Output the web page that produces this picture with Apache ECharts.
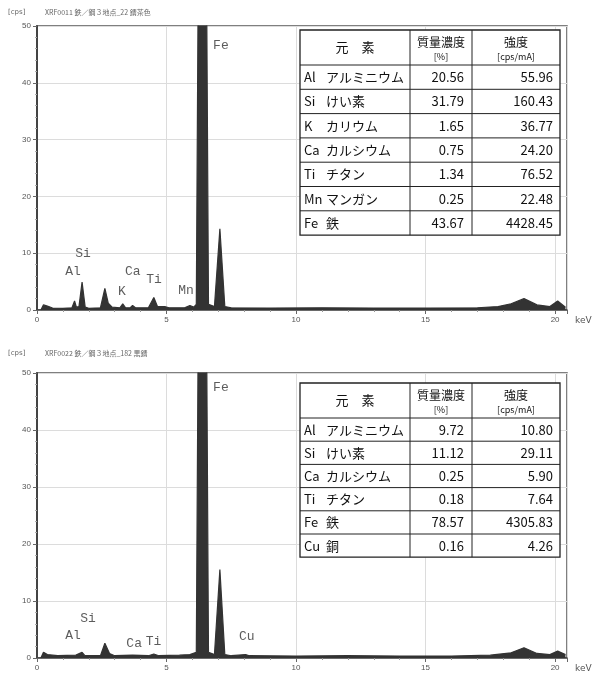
<!DOCTYPE html>
<html>
<head>
<meta charset="utf-8">
<script src="https://cdn.jsdelivr.net/npm/echarts@6/dist/echarts.min.js"></script>
<style>
html,body{margin:0;padding:0;background:#fff;}
#c{width:599px;height:677px;}
</style>
</head>
<body>
<div id="c"></div>
<script>
// ---------- data ----------
// spectrum 1: [keV, cps]
var spectrum1 = [
  [0.15,0],[0.25,0.9],[0.4,0.7],[0.6,0.35],[1.0,0.3],[1.35,0.4],[1.45,1.6],[1.52,0.5],[1.62,0.6],
  [1.74,4.9],[1.86,0.5],[2.0,0.3],[2.45,0.4],[2.62,3.8],[2.75,1.2],[2.9,0.5],[3.2,0.4],
  [3.31,1.1],[3.42,0.4],[3.6,0.4],[3.69,0.8],[3.8,0.4],[4.3,0.4],[4.51,2.2],[4.65,0.6],
  [4.93,0.6],[5.1,0.4],[5.7,0.4],[5.9,0.8],[6.05,0.5],[6.15,1.0],[6.22,55],[6.4,600],
  [6.55,55],[6.62,1.0],[6.85,0.6],[7.06,14.3],[7.25,0.6],[7.5,0.4],[9,0.35],[11,0.4],
  [13,0.35],[15,0.35],[17,0.4],[17.8,0.6],[18.3,1.1],[18.8,2.0],[19.3,0.9],[19.8,0.6],
  [20.1,1.6],[20.4,0.5]
];
// spectrum 2: [keV, cps]
var spectrum2 = [
  [0.15,0],[0.25,1.0],[0.4,0.6],[0.8,0.4],[1.5,0.5],[1.74,1.0],[1.85,0.4],[2.45,0.4],
  [2.62,2.6],[2.8,0.8],[3.0,0.4],[3.69,0.5],[4.3,0.4],[4.51,0.7],[4.7,0.4],[5.5,0.5],
  [5.9,0.6],[6.15,1.0],[6.22,55],[6.4,600],[6.55,55],[6.62,1.0],[6.85,0.6],[7.06,15.5],
  [7.25,0.6],[7.5,0.4],[8.05,0.6],[8.2,0.4],[10,0.35],[12,0.4],[14,0.35],[16,0.35],
  [17.5,0.5],[18.3,0.9],[18.8,1.8],[19.3,0.8],[19.8,0.6],[20.1,1.2],[20.4,0.6]
];
// peak annotations: [text, keV, cps]
var peakLabels1 = [['Fe',7.1,46.6],['Si',1.78,9.9],['Al',1.39,6.7],['K',3.28,3.3],['Ca',3.7,6.7],['Ti',4.52,5.3],['Mn',5.75,3.5]];
var peakLabels2 = [['Fe',7.1,47.4],['Si',1.97,7.0],['Al',1.39,3.9],['Ca',3.75,2.6],['Ti',4.5,2.8],['Cu',8.1,3.7]];
// axis ticks
var xTickStep = 5, xMax = 20.46;
var yTickStep = 10, yMax = 50;
// tables
var tableHeader = ['元　素', '質量濃度', '[%]', '強度', '[cps/mA]'];
var symbols1 = ['Al','Si','K','Ca','Ti','Mn','Fe'];
var names1 = ['アルミニウム','けい素','カリウム','カルシウム','チタン','マンガン','鉄'];
var mass1 = [20.56,31.79,1.65,0.75,1.34,0.25,43.67];
var intensity1 = [55.96,160.43,36.77,24.20,76.52,22.48,4428.45];
var symbols2 = ['Al','Si','Ca','Ti','Fe','Cu'];
var names2 = ['アルミニウム','けい素','カルシウム','チタン','鉄','銅'];
var mass2 = [9.72,11.12,0.25,0.18,78.57,0.16];
var intensity2 = [10.80,29.11,5.90,7.64,4305.83,4.26];
var titles = ['XRF0011 鉄／鋼３地点_22 錆茶色', 'XRF0022 鉄／鋼３地点_182 黒錆'];

// ---------- chart ----------
var chart = echarts.init(document.getElementById('c'), null, {renderer:'canvas'});
var JP = '"Noto Sans CJK JP", "Noto Sans", sans-serif';

function xAxis(gi){
  return {
    type:'value', gridIndex:gi, min:0, max:xMax, interval:xTickStep,
    name:'keV', nameLocation:'end', nameGap:8,
    nameTextStyle:{fontSize:9, color:'#555', fontFamily:'DejaVu Sans', verticalAlign:'top', padding:[6,0,0,0]},
    axisLine:{lineStyle:{color:'#444', width:1.5}},
    axisTick:{length:4, lineStyle:{color:'#666'}},
    minorTick:{show:true, splitNumber:5, length:2, lineStyle:{color:'#999'}},
    axisLabel:{fontSize:8, color:'#555', margin:6, showMaxLabel:false},
    splitLine:{show:true, lineStyle:{color:'#dcdcdc', width:1}}
  };
}
function yAxis(gi){
  return {
    type:'value', gridIndex:gi, min:0, max:yMax, interval:yTickStep,
    axisLine:{show:true, lineStyle:{color:'#444', width:2}},
    axisTick:{show:true, length:4, lineStyle:{color:'#666'}},
    minorTick:{show:true, splitNumber:5, length:2, lineStyle:{color:'#aaa'}},
    axisLabel:{fontSize:8, color:'#555', margin:6},
    splitLine:{show:true, lineStyle:{color:'#dcdcdc', width:1}}
  };
}
function spec(data, gi){
  return {type:'line', xAxisIndex:gi, yAxisIndex:gi, data:data, showSymbol:false, clip:true,
    lineStyle:{color:'#333', width:1.2}, areaStyle:{color:'#333', opacity:1}, silent:true, z:3};
}
function labels(arr, gi){
  return {type:'scatter', xAxisIndex:gi, yAxisIndex:gi, symbolSize:0, silent:true, z:4,
    data:arr.map(function(a){return {name:a[0], value:[a[1],a[2]]};}),
    label:{show:true, position:'inside', formatter:'{b}', fontFamily:'"Liberation Mono", monospace',
      fontSize:13, color:'#333'}};
}

function table(x0, y0, headerH, rowH, colX, syms, names, mass, inten){
  var els = [];
  var n = syms.length;
  var bottom = y0 + headerH + rowH*n;
  var right = colX[3];
  els.push({type:'rect', shape:{x:x0, y:y0, width:right-x0, height:bottom-y0},
    style:{fill:'#fff', stroke:'#222', lineWidth:1.3}, z:10});
  // horizontal lines
  for (var i=0;i<n;i++){
    var yy = y0 + headerH + rowH*i;
    els.push({type:'line', shape:{x1:x0, y1:yy, x2:right, y2:yy}, style:{stroke:'#222', lineWidth:1}, z:11});
  }
  // vertical lines
  [colX[1], colX[2]].forEach(function(xx){
    els.push({type:'line', shape:{x1:xx, y1:y0, x2:xx, y2:bottom}, style:{stroke:'#222', lineWidth:1}, z:11});
  });
  var c1 = (colX[0]+colX[1])/2, c2=(colX[1]+colX[2])/2, c3=(colX[2]+colX[3])/2;
  function t(x,y,s,size,align){
    return {type:'text', x:x, y:y, z:12, style:{text:s, fontFamily:JP, fontSize:size, fill:'#111',
      align:align||'center', verticalAlign:'middle'}};
  }
  els.push(t(c1, y0+headerH/2, tableHeader[0], 13));
  els.push(t(c2, y0+headerH*0.36, tableHeader[1], 12));
  els.push(t(c2, y0+headerH*0.76, tableHeader[2], 9));
  els.push(t(c3, y0+headerH*0.36, tableHeader[3], 12));
  els.push(t(c3, y0+headerH*0.76, tableHeader[4], 9));
  for (var r=0;r<n;r++){
    var cy = y0 + headerH + rowH*(r+0.5);
    els.push(t(colX[0]+4, cy, syms[r], 13, 'left'));
    els.push(t(colX[0]+26, cy, names[r], 13, 'left'));
    els.push(t(colX[2]-8, cy, mass[r].toFixed(2), 13, 'right'));
    els.push(t(colX[3]-7, cy, inten[r].toFixed(2), 13, 'right'));
  }
  return els;
}

var graphics = [];
graphics = graphics.concat(table(300, 30, 35, 24.3, [300,410,472,560], symbols1, names1, mass1, intensity1));
graphics = graphics.concat(table(300, 383, 35, 23.2, [300,410,472,560], symbols2, names2, mass2, intensity2));
[[12,titles[0]],[353,titles[1]]].forEach(function(p){
  graphics.push({type:'text', x:8, y:p[0], style:{text:'[cps]', fontSize:7, fill:'#666', fontFamily:'DejaVu Sans', verticalAlign:'middle'}});
  graphics.push({type:'text', x:45, y:p[0], style:{text:p[1], fontSize:7, fill:'#666', fontFamily:JP, verticalAlign:'middle'}});
});

chart.setOption({
  animation:false,
  backgroundColor:'#fff',
  grid:[
    {left:37, top:26, width:530, height:284, show:true, borderColor:'#555', borderWidth:1.5, backgroundColor:'transparent'},
    {left:37, top:373, width:530, height:285, show:true, borderColor:'#555', borderWidth:1.5, backgroundColor:'transparent'}
  ],
  xAxis:[xAxis(0), xAxis(1)],
  yAxis:[yAxis(0), yAxis(1)],
  series:[spec(spectrum1,0), spec(spectrum2,1), labels(peakLabels1,0), labels(peakLabels2,1)],
  graphic:graphics
});
</script>
</body>
</html>
